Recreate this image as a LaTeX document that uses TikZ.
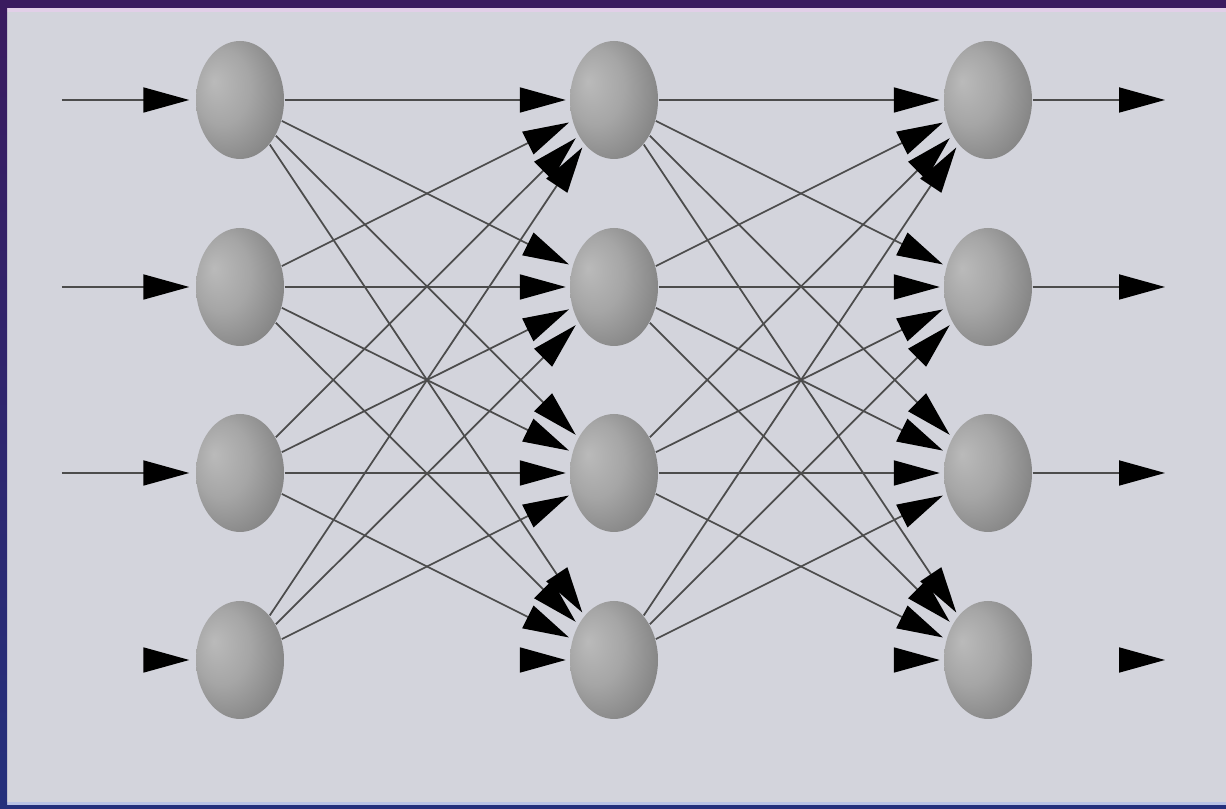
\documentclass[tikz,border=0pt]{standalone}
\usetikzlibrary{arrows.meta,shapes.geometric}

\definecolor{panelgray}{HTML}{D3D4DC}
\definecolor{framepurple}{HTML}{3A1B5F}
\definecolor{framenavy}{HTML}{24307C}
\definecolor{edgepink}{HTML}{E2CFE8}
\definecolor{edgeblue}{HTML}{B9C3E6}

\pgfdeclareradialshading{neuronshade}{\pgfpoint{-15bp}{8bp}}{%
  color(0bp)=(black!27); color(16bp)=(black!35); color(32bp)=(black!48);
  color(46bp)=(black!66); color(52bp)=(black!74)}

\begin{document}
\begin{tikzpicture}[x=1cm, y=-1cm]
  \tikzset{
    neuron/.style={ellipse, minimum width=0.88cm, minimum height=1.18cm, inner sep=0pt, shading=neuronshade},
    link/.style={draw=black!70, line width=0.5pt, -{Triangle[length=4.6mm, width=2.5mm, color=black]}, shorten >=0.35mm}
  }

  % Fondo y marco
  \useasboundingbox (0,0) rectangle (12.26,8.09);
  \fill[panelgray] (0,0) rectangle (12.26,8.09);
  \fill[edgepink] (0,0.08) rectangle (12.26,0.12);
  \fill[edgeblue] (0,8.02) rectangle (12.26,8.05);
  \fill[framepurple] (0,0) rectangle (12.26,0.08);
  \fill[framenavy] (0,8.05) rectangle (12.26,8.09);
  \shade[top color=framepurple, bottom color=framenavy] (0,0) rectangle (0.07,8.09);

  % Capa de entrada
  \node[neuron] (a1) at (2.40,1.00) {};
  \node[neuron] (a2) at (2.40,2.87) {};
  \node[neuron] (a3) at (2.40,4.73) {};
  \node[neuron] (a4) at (2.40,6.60) {};

  % Capa oculta
  \node[neuron] (b1) at (6.14,1.00) {};
  \node[neuron] (b2) at (6.14,2.87) {};
  \node[neuron] (b3) at (6.14,4.73) {};
  \node[neuron] (b4) at (6.14,6.60) {};

  % Capa de salida
  \node[neuron] (c1) at (9.88,1.00) {};
  \node[neuron] (c2) at (9.88,2.87) {};
  \node[neuron] (c3) at (9.88,4.73) {};
  \node[neuron] (c4) at (9.88,6.60) {};

  % Extremos libres de entradas y salidas
  \coordinate (in1) at (0.62,1.00);
  \coordinate (in2) at (0.62,2.87);
  \coordinate (in3) at (0.62,4.73);
  \coordinate (in4) at (1.45,6.60);
  \coordinate (out1) at (11.65,1.00);
  \coordinate (out2) at (11.65,2.87);
  \coordinate (out3) at (11.65,4.73);
  \coordinate (out4) at (11.65,6.60);

  % Conexiones entre capas
  \foreach \i in {1,...,4} {
    \foreach \j in {1,...,4} {
      \ifnum\i\j=44 \else
        \draw[link] (a\i) -- (b\j);
        \draw[link] (b\i) -- (c\j);
      \fi
    }
  }
  % fila inferior: solo la punta
  \draw[link, shorten <=2.38cm] (a4) -- (b4);
  \draw[link, shorten <=2.38cm] (b4) -- (c4);

  % Entradas
  \draw[link, shorten >=0.6mm] (in1) -- (a1);
  \draw[link, shorten >=0.6mm] (in2) -- (a2);
  \draw[link, shorten >=0.6mm] (in3) -- (a3);
  \draw[link, shorten >=0.6mm] (in4) -- (a4);

  % Salidas
  \draw[link, shorten >=0pt] (c1) -- (out1);
  \draw[link, shorten >=0pt] (c2) -- (out2);
  \draw[link, shorten >=0pt] (c3) -- (out3);
  \draw[link, shorten >=0pt, shorten <=8.8mm] (c4) -- (out4);
\end{tikzpicture}
\end{document}
